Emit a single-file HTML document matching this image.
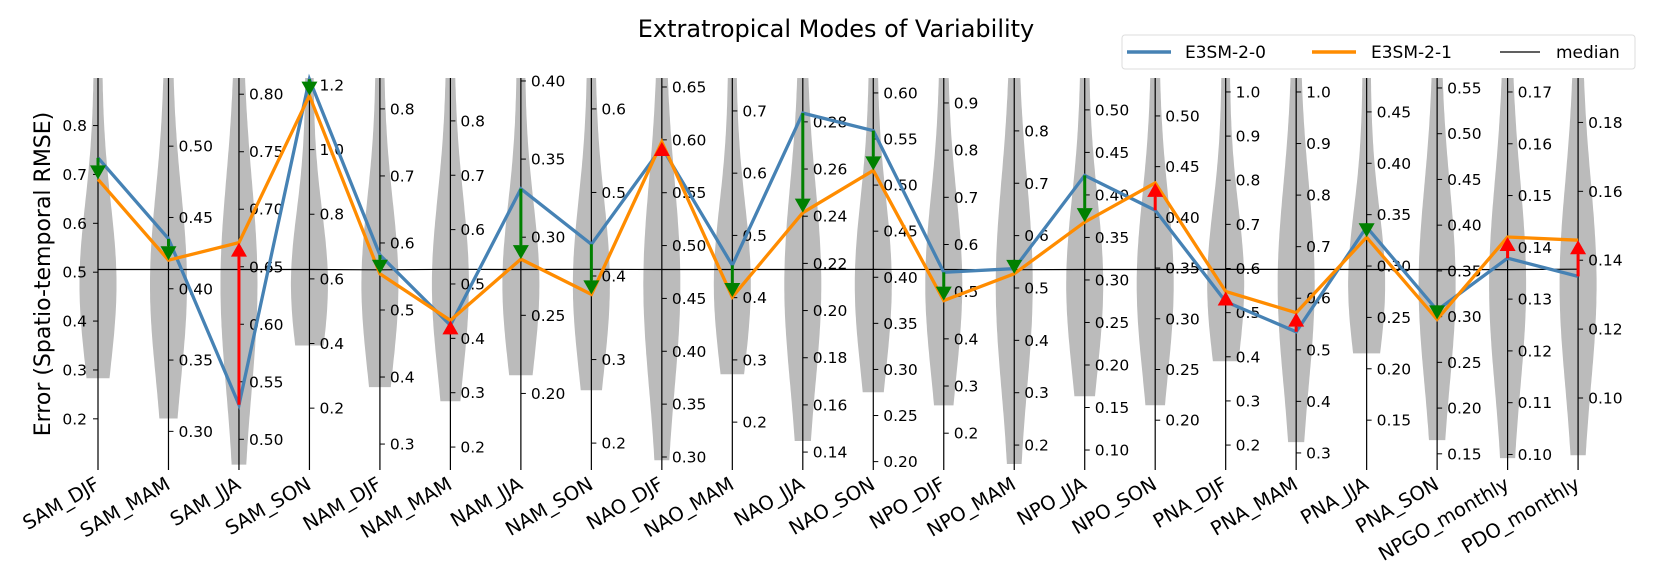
<!DOCTYPE html>
<html><head><meta charset="utf-8">
<style>
html,body{margin:0;padding:0;background:#fff;}
svg{display:block;font-family:"DejaVu Sans","Liberation Sans",sans-serif;}
</style></head>
<body>
<svg id="chart" width="1655" height="583" viewBox="0 0 1655 583" xmlns="http://www.w3.org/2000/svg">
<text x="836" y="37" font-size="24" text-anchor="middle" fill="#000">Extratropical Modes of Variability</text>
<text transform="translate(50,274) rotate(-90)" font-size="22" text-anchor="middle" fill="#000">Error (Spatio-temporal RMSE)</text>
<g id="violins"></g>
<g id="axes"></g>
<g id="series"></g>
<g id="arrows"></g>
<g id="xlabels"></g>
<g>
  <rect x="1122" y="35" width="513" height="34" rx="3" fill="#fff" stroke="#ddd" stroke-width="1"/>
  <g>
    <line x1="1127" y1="52" x2="1171" y2="52" stroke="#4682b4" stroke-width="3.5"/>
    <text x="1185" y="58" font-size="17">E3SM-2-0</text>
  </g>
  <g>
    <line x1="1312" y1="52" x2="1356" y2="52" stroke="#ff8c00" stroke-width="3.5"/>
    <text x="1371" y="58" font-size="17">E3SM-2-1</text>
  </g>
  <g>
    <line x1="1500" y1="52" x2="1540" y2="52" stroke="#000" stroke-width="1.2"/>
    <text x="1556" y="58" font-size="17">median</text>
  </g>
</g>
</svg>
<script>
const categories = ["SAM_DJF","SAM_MAM","SAM_JJA","SAM_SON","NAM_DJF","NAM_MAM","NAM_JJA","NAM_SON","NAO_DJF","NAO_MAM","NAO_JJA","NAO_SON","NPO_DJF","NPO_MAM","NPO_JJA","NPO_SON","PNA_DJF","PNA_MAM","PNA_JJA","PNA_SON","NPGO_monthly","PDO_monthly"];
const e3sm20 = [0.734,0.435,0.530,1.218,0.582,0.424,0.331,0.438,0.593,0.452,0.2837,0.559,0.541,0.537,0.423,0.407,0.525,0.535,0.338,0.307,0.1379,0.1353];
const e3sm21 = [0.690,0.420,0.671,1.167,0.554,0.433,0.286,0.378,0.598,0.401,0.2415,0.516,0.481,0.527,0.368,0.434,0.548,0.572,0.328,0.297,0.1420,0.1458];
const medians = [0.5055,0.4135,0.6476,0.629,0.560,0.527,0.2793,0.408,0.4774,0.4452,0.2174,0.4085,0.547,0.535,0.3123,0.3486,0.598,0.656,0.2966,0.3515,0.1357,0.1374];
const axisTop = [0.8973,0.5478,0.8141,1.2216,0.8461,0.8789,0.4019,0.637,0.6585,0.7529,0.2986,0.6162,0.9529,0.901,0.5375,0.5374,1.0316,1.0271,0.483,0.5609,0.1727,0.1929];
const axisBottom = [0.0953,0.2729,0.4733,0.0086,0.2613,0.1578,0.151,0.1678,0.2877,0.1231,0.1324,0.1909,0.122,0.1524,0.0765,0.1509,0.1435,0.2669,0.1015,0.1323,0.097,0.0791];
const violinMin = [0.283,0.309,0.478,0.394,0.385,0.2844,0.2116,0.2633,0.297,0.277,0.1447,0.2753,0.259,0.1638,0.1633,0.2148,0.39,0.321,0.215,0.165,0.0993,0.0834];
const tickLabels = [
 ["0.2","0.3","0.4","0.5","0.6","0.7","0.8"],
 ["0.30","0.35","0.40","0.45","0.50"],
 ["0.50","0.55","0.60","0.65","0.70","0.75","0.80"],
 ["0.2","0.4","0.6","0.8","1.0","1.2"],
 ["0.3","0.4","0.5","0.6","0.7","0.8"],
 ["0.2","0.3","0.4","0.5","0.6","0.7","0.8"],
 ["0.20","0.25","0.30","0.35","0.40"],
 ["0.2","0.3","0.4","0.5","0.6"],
 ["0.30","0.35","0.40","0.45","0.50","0.55","0.60","0.65"],
 ["0.2","0.3","0.4","0.5","0.6","0.7"],
 ["0.14","0.16","0.18","0.20","0.22","0.24","0.26","0.28"],
 ["0.20","0.25","0.30","0.35","0.40","0.45","0.50","0.55","0.60"],
 ["0.2","0.3","0.4","0.5","0.6","0.7","0.8","0.9"],
 ["0.2","0.3","0.4","0.5","0.6","0.7","0.8"],
 ["0.10","0.15","0.20","0.25","0.30","0.35","0.40","0.45","0.50"],
 ["0.20","0.25","0.30","0.35","0.40","0.45","0.50"],
 ["0.2","0.3","0.4","0.5","0.6","0.7","0.8","0.9","1.0"],
 ["0.3","0.4","0.5","0.6","0.7","0.8","0.9","1.0"],
 ["0.15","0.20","0.25","0.30","0.35","0.40","0.45"],
 ["0.15","0.20","0.25","0.30","0.35","0.40","0.45","0.50","0.55"],
 ["0.10","0.11","0.12","0.13","0.14","0.15","0.16","0.17"],
 ["0.10","0.12","0.14","0.16","0.18"]
];

const NS = "http://www.w3.org/2000/svg";
const X0 = 98, DX = 70.48, YT = 78, YB = 470;
function xPos(i){ return X0 + DX*i; }
function yPos(i, v){ return YT + (axisTop[i]-v)/(axisTop[i]-axisBottom[i])*(YB-YT); }
function mk(tag, attrs, parent){
  const e = document.createElementNS(NS, tag);
  for (const k in attrs) e.setAttribute(k, attrs[k]);
  parent.appendChild(e); return e;
}
const gV = document.getElementById('violins');
const gA = document.getElementById('axes');
const gS = document.getElementById('series');
const gR = document.getElementById('arrows');
const gX = document.getElementById('xlabels');

categories.forEach((c, i) => {
  const x = xPos(i);
  const yb = yPos(i, violinMin[i]);
  const yc = yPos(i, medians[i]) + 15;
  const s = (yb - YT) / 2.6;
  const left = [], right = [];
  for (let y = YT; y <= yb; y += 4) {
    const w = 4 + 14.5*Math.exp(-Math.pow((y-yc)/s, 2));
    left.push((x-w).toFixed(1)+","+y.toFixed(1));
    right.unshift((x+w).toFixed(1)+","+y.toFixed(1));
  }
  const wb = 4 + 14.5*Math.exp(-Math.pow((yb-yc)/s, 2));
  left.push((x-wb).toFixed(1)+","+yb.toFixed(1));
  right.unshift((x+wb).toFixed(1)+","+yb.toFixed(1));
  const vp = mk('polygon', {points: left.concat(right).join(' '), fill:'#bbbbbb'}, gV);
  
  

  const al = mk('line', {x1:x, y1:YT, x2:x, y2:YB, stroke:'#000', 'stroke-width':1.2}, gA);
  
  
  tickLabels[i].forEach(t => {
    const v = parseFloat(t);
    const y = yPos(i, v);
    if (y < YT - 1 || y > YB + 1) return;
    if (i === 0) {
      mk('line', {x1:x-5, y1:y, x2:x, y2:y, stroke:'#000', 'stroke-width':1}, gA);
      const tt = mk('text', {x:x-11, y:y+5.5, 'font-size':15.5, 'text-anchor':'end'}, gA);
      tt.textContent = t;
      
      
    } else {
      mk('line', {x1:x, y1:y, x2:x+5, y2:y, stroke:'#000', 'stroke-width':1}, gA);
      const tt = mk('text', {x:x+10, y:y+5.5, 'font-size':15.5}, gA);
      tt.textContent = t;
      
      
    }
  });
  const lx = x + 3, ly = 488;
  const xl = mk('text', {x:lx, y:ly, 'font-size':19.5, 'text-anchor':'end', transform:'rotate(-30 '+lx+' '+ly+')'}, gX);
  xl.textContent = c;
  
  
});

function poly(vals, color, width, name){
  const pts = vals.map((v,i) => xPos(i).toFixed(1)+","+yPos(i,v).toFixed(1)).join(' ');
  const p = mk('polyline', {points:pts, fill:'none', stroke:color, 'stroke-width':width, 'stroke-linejoin':'miter'}, gS);
  
  
}
poly(medians, '#000', 1.2, 'median-line');
poly(e3sm20, '#4682b4', 3.3, 'line-e3sm-2-0');
poly(e3sm21, '#ff8c00', 3.3, 'line-e3sm-2-1');

categories.forEach((c, i) => {
  const x = xPos(i);
  const y1 = yPos(i, e3sm20[i]), y2 = yPos(i, e3sm21[i]);
  const down = y2 > y1;
  const col = down ? '#008000' : '#ff0000';
  const h = 14, w = 8;
  const base = down ? y2 - h : y2 + h;
  const a = mk('line', {x1:x, y1:y1, x2:x, y2:base, stroke:col, 'stroke-width':3}, gR);
  
  
  const t = mk('polygon', {points:(x-w)+","+base+" "+(x+w)+","+base+" "+x+","+y2, fill:col}, gR);
  
  
});
</script>
</body></html>
